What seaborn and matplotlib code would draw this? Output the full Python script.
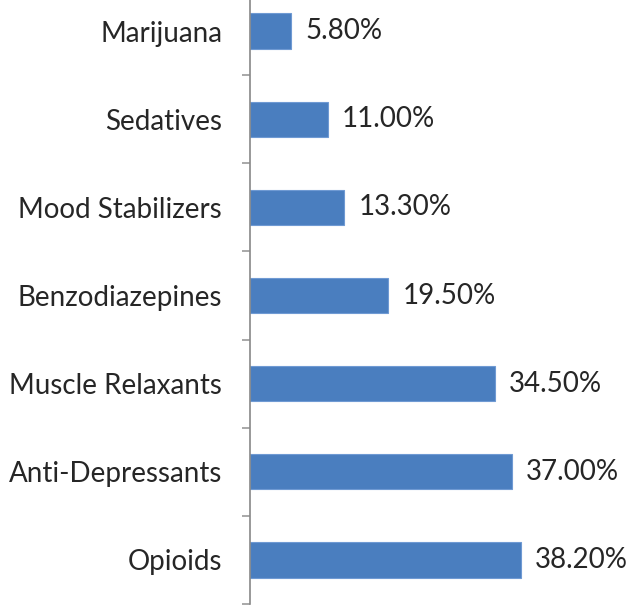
import matplotlib
matplotlib.use("Agg")
import matplotlib.pyplot as plt
import seaborn as sns
import pandas as pd
from matplotlib.ticker import FixedLocator

categories = ["Marijuana", "Sedatives", "Mood Stabilizers", "Benzodiazepines",
              "Muscle Relaxants", "Anti-Depressants", "Opioids"]
values = [5.8, 11.0, 13.3, 19.5, 34.5, 37.0, 38.2]
value_labels = ["5.80%", "11.00%", "13.30%", "19.50%", "34.50%", "37.00%", "38.20%"]

df = pd.DataFrame({"category": categories, "value": values})

sns.set_style("white")
plt.rcParams["font.family"] = ["Lato", "DejaVu Sans"]

fig = plt.figure(figsize=(6.33, 6.06), dpi=100)
ax = fig.add_axes([250 / 633, 2 / 606, 383 / 633, 617 / 606])

sns.barplot(data=df, y="category", x="value", orient="h", color="#4a7ebf",
            width=0.4, saturation=1, ax=ax, edgecolor="#6f9ad3", linewidth=0.8)

ax.set_xlim(0, 54)
ax.set_ylim(len(categories) - 0.5, -0.5)
ax.set_xlabel("")
ax.set_ylabel("")
ax.set_xticks([])

for s in ["top", "right", "bottom"]:
    ax.spines[s].set_visible(False)
ax.spines["left"].set_color("#888888")
ax.spines["left"].set_linewidth(1.2)

ax.tick_params(axis="y", which="major", left=True, length=0, pad=20,
               labelsize=20, labelcolor="#262626")
ax.yaxis.set_minor_locator(FixedLocator([i + 0.5 for i in range(-1, len(categories))]))
ax.tick_params(axis="y", which="minor", left=True, length=6, width=1.2,
               color="#999999", direction="out")

ax.bar_label(ax.containers[0], labels=value_labels, padding=10, fontsize=20, color="#262626")

fig.savefig("out.png", dpi=100)
